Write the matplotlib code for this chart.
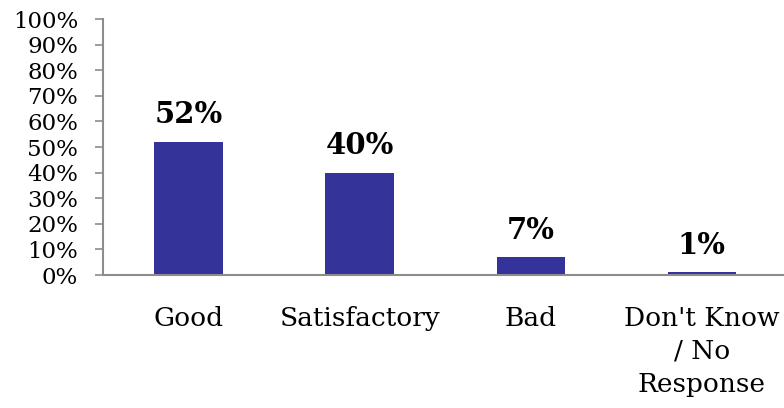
import matplotlib
matplotlib.use("Agg")
import matplotlib.pyplot as plt
import numpy as np

categories = ["Good", "Satisfactory", "Bad", "Don't Know\n/ No\nResponse"]
values = [52, 40, 7, 1]
yticks = [0, 10, 20, 30, 40, 50, 60, 70, 80, 90, 100]
ytick_labels = [f"{v}%" for v in yticks]

plt.rcParams['font.family'] = ['DejaVu Serif']

fig = plt.figure(figsize=(7.84, 4.08), dpi=100)
ax = fig.add_axes([103/784, (408-275)/408, (784-103)/784, (275-19)/408])

x = np.arange(len(categories))
ax.bar(x, values, width=0.4, color="#333399", zorder=2)
ax.set_xlim(-0.5, 3.48)
ax.set_ylim(0, 100)
ax.set_yticks(yticks)
ax.set_yticklabels(ytick_labels, fontsize=16.5, color="black")
ax.set_xticks(x)
ax.set_xticklabels(categories, fontsize=19, color="black", linespacing=1.4, va="top")
ax.tick_params(axis="x", length=0, pad=22)
ax.tick_params(axis="y", length=6, width=1.2, color="#8c8c8c", pad=12, direction="out")

for s in ["top", "right"]:
    ax.spines[s].set_visible(False)
for s in ["left", "bottom"]:
    ax.spines[s].set_color("#8c8c8c")
    ax.spines[s].set_linewidth(1.5)

for xi, v in zip(x, values):
    ax.annotate(f"{v}%", (xi, v), xytext=(0, 9), textcoords="offset points",
                ha="center", va="bottom", fontsize=21, fontweight="bold")

fig.savefig("out.png", dpi=100)
